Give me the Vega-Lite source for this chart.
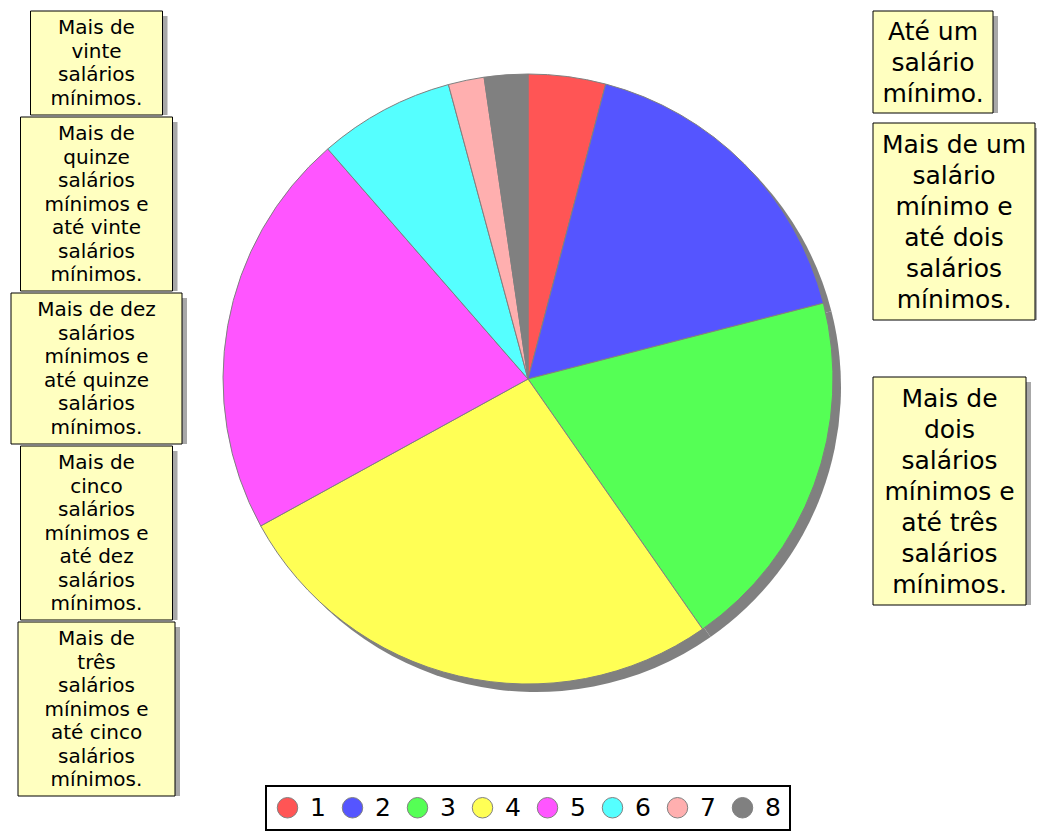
{
  "$schema": "https://vega.github.io/schema/vega-lite/v6.json",
  "padding": {"left": 10, "top": 10, "right": 0, "bottom": 0},
  "background": "white",
  "datasets": {
    "slices": [
      {"id": 1, "pct": 4.1, "label": "Até um\nsalário\nmínimo."},
      {"id": 2, "pct": 16.9, "label": "Mais de um\nsalário\nmínimo e\naté dois\nsalários\nmínimos."},
      {"id": 3, "pct": 19.3, "label": "Mais de\ndois\nsalários\nmínimos e\naté três\nsalários\nmínimos."},
      {"id": 4, "pct": 26.7, "label": "Mais de\ntrês\nsalários\nmínimos e\naté cinco\nsalários\nmínimos."},
      {"id": 5, "pct": 21.6, "label": "Mais de\ncinco\nsalários\nmínimos e\naté dez\nsalários\nmínimos."},
      {"id": 6, "pct": 7.2, "label": "Mais de dez\nsalários\nmínimos e\naté quinze\nsalários\nmínimos."},
      {"id": 7, "pct": 1.9, "label": "Mais de\nquinze\nsalários\nmínimos e\naté vinte\nsalários\nmínimos."},
      {"id": 8, "pct": 2.3, "label": "Mais de\nvinte\nsalários\nmínimos."}
    ]
  },
  "data": {"name": "slices"},
  "config": {
    "view": {"stroke": null},
    "font": "DejaVu Sans",
    "legend": {"strokeWidth": 2, "layout": {"bottom": {"anchor": "middle"}}}
  },
  "resolve": {"legend": {"color": "independent"}, "scale": {"color": "independent"}},
  "spacing": 31,
  "hconcat": [
    {
      "spacing": 0,
      "center": true,
      "vconcat": [
        {"width": 132, "height": 104, "transform": [{"filter": "datum.id == 8"}],
          "layer": [
            {"mark": {"type": "rect", "fill": "#a8a8a8", "xOffset": 5, "x2Offset": 5, "yOffset": 5, "y2Offset": 5}, "encoding": {}},
            {"mark": {"type": "rect", "fill": "#ffffc0", "stroke": "black", "strokeWidth": 1}, "encoding": {}},
            {"mark": {"type": "text", "baseline": "top", "dy": 7, "fontSize": 20, "lineHeight": 23.5, "lineBreak": "\n", "font": "DejaVu Sans", "color": "black"},
              "encoding": {"text": {"field": "label"}, "y": {"field": "id", "type": "nominal", "scale": {"type": "point", "align": 0, "padding": 0}, "axis": null}}}
          ]},
        {"width": 152, "height": 174, "transform": [{"filter": "datum.id == 7"}],
          "layer": [
            {"mark": {"type": "rect", "fill": "#a8a8a8", "xOffset": 5, "x2Offset": 5, "yOffset": 5, "y2Offset": 5}, "encoding": {}},
            {"mark": {"type": "rect", "fill": "#ffffc0", "stroke": "black", "strokeWidth": 1}, "encoding": {}},
            {"mark": {"type": "text", "baseline": "top", "dy": 7, "fontSize": 20, "lineHeight": 23.5, "lineBreak": "\n", "font": "DejaVu Sans", "color": "black"},
              "encoding": {"text": {"field": "label"}, "y": {"field": "id", "type": "nominal", "scale": {"type": "point", "align": 0, "padding": 0}, "axis": null}}}
          ]},
        {"width": 171, "height": 151, "transform": [{"filter": "datum.id == 6"}],
          "layer": [
            {"mark": {"type": "rect", "fill": "#a8a8a8", "xOffset": 5, "x2Offset": 5, "yOffset": 5, "y2Offset": 5}, "encoding": {}},
            {"mark": {"type": "rect", "fill": "#ffffc0", "stroke": "black", "strokeWidth": 1}, "encoding": {}},
            {"mark": {"type": "text", "baseline": "top", "dy": 7, "fontSize": 20, "lineHeight": 23.5, "lineBreak": "\n", "font": "DejaVu Sans", "color": "black"},
              "encoding": {"text": {"field": "label"}, "y": {"field": "id", "type": "nominal", "scale": {"type": "point", "align": 0, "padding": 0}, "axis": null}}}
          ]},
        {"width": 152, "height": 174, "transform": [{"filter": "datum.id == 5"}],
          "layer": [
            {"mark": {"type": "rect", "fill": "#a8a8a8", "xOffset": 5, "x2Offset": 5, "yOffset": 5, "y2Offset": 5}, "encoding": {}},
            {"mark": {"type": "rect", "fill": "#ffffc0", "stroke": "black", "strokeWidth": 1}, "encoding": {}},
            {"mark": {"type": "text", "baseline": "top", "dy": 7, "fontSize": 20, "lineHeight": 23.5, "lineBreak": "\n", "font": "DejaVu Sans", "color": "black"},
              "encoding": {"text": {"field": "label"}, "y": {"field": "id", "type": "nominal", "scale": {"type": "point", "align": 0, "padding": 0}, "axis": null}}}
          ]},
        {"width": 157, "height": 174, "transform": [{"filter": "datum.id == 4"}],
          "layer": [
            {"mark": {"type": "rect", "fill": "#a8a8a8", "xOffset": 5, "x2Offset": 5, "yOffset": 5, "y2Offset": 5}, "encoding": {}},
            {"mark": {"type": "rect", "fill": "#ffffc0", "stroke": "black", "strokeWidth": 1}, "encoding": {}},
            {"mark": {"type": "text", "baseline": "top", "dy": 7, "fontSize": 20, "lineHeight": 23.5, "lineBreak": "\n", "font": "DejaVu Sans", "color": "black"},
              "encoding": {"text": {"field": "label"}, "y": {"field": "id", "type": "nominal", "scale": {"type": "point", "align": 0, "padding": 0}, "axis": null}}}
          ]}
      ]
    },
    {
      "width": 620,
      "height": 736,
      "layer": [
        {"mark": {"type": "arc", "outerRadius": 305, "xOffset": 8, "yOffset": 8, "color": "#808080"},
          "encoding": {"theta": {"field": "pct", "type": "quantitative", "stack": true}, "order": {"field": "id", "type": "quantitative"}}},
        {"mark": {"type": "arc", "outerRadius": 305, "stroke": "#808080", "strokeWidth": 1},
          "encoding": {
            "theta": {"field": "pct", "type": "quantitative", "stack": true},
            "order": {"field": "id", "type": "quantitative"},
            "color": {
              "field": "id", "type": "nominal",
              "scale": {"domain": [1, 2, 3, 4, 5, 6, 7, 8], "range": ["#ff5555", "#5555ff", "#55ff55", "#ffff55", "#ff55ff", "#55ffff", "#ffafaf", "#808080"]},
              "legend": {
                "title": null, "orient": "bottom", "direction": "horizontal", "offset": 39,
                "symbolType": "circle", "symbolSize": 420, "symbolStrokeColor": "#808080", "symbolStrokeWidth": 1, "symbolOpacity": 1,
                "labelFontSize": 25, "labelFont": "DejaVu Sans", "labelColor": "black", "labelOffset": 10, "columnPadding": 14,
                "strokeColor": "black", "padding": 9, "fillColor": "white"
              }
            }
          }}
      ]
    },
    {
      "spacing": 8,
      "vconcat": [
        {"width": 120, "height": 102, "transform": [{"filter": "datum.id == 1"}],
          "layer": [
            {"mark": {"type": "rect", "fill": "#a8a8a8", "xOffset": 5, "x2Offset": 5, "yOffset": 5, "y2Offset": 5}, "encoding": {}},
            {"mark": {"type": "rect", "fill": "#ffffc0", "stroke": "black", "strokeWidth": 1}, "encoding": {}},
            {"mark": {"type": "text", "baseline": "top", "dy": 9, "fontSize": 25, "lineHeight": 31, "lineBreak": "\n", "font": "DejaVu Sans", "color": "black"},
              "encoding": {"text": {"field": "label"}, "y": {"field": "id", "type": "nominal", "scale": {"type": "point", "align": 0, "padding": 0}, "axis": null}}}
          ]},
        {
          "spacing": 55,
          "vconcat": [
            {"width": 162, "height": 197, "transform": [{"filter": "datum.id == 2"}],
              "layer": [
                {"mark": {"type": "rect", "fill": "#a8a8a8", "xOffset": 5, "x2Offset": 5, "yOffset": 5, "y2Offset": 5}, "encoding": {}},
                {"mark": {"type": "rect", "fill": "#ffffc0", "stroke": "black", "strokeWidth": 1}, "encoding": {}},
                {"mark": {"type": "text", "baseline": "top", "dy": 10, "fontSize": 25, "lineHeight": 31, "lineBreak": "\n", "font": "DejaVu Sans", "color": "black"},
                  "encoding": {"text": {"field": "label"}, "y": {"field": "id", "type": "nominal", "scale": {"type": "point", "align": 0, "padding": 0}, "axis": null}}}
              ]},
            {"width": 153, "height": 228, "transform": [{"filter": "datum.id == 3"}],
              "layer": [
                {"mark": {"type": "rect", "fill": "#a8a8a8", "xOffset": 5, "x2Offset": 5, "yOffset": 5, "y2Offset": 5}, "encoding": {}},
                {"mark": {"type": "rect", "fill": "#ffffc0", "stroke": "black", "strokeWidth": 1}, "encoding": {}},
                {"mark": {"type": "text", "baseline": "top", "dy": 10, "fontSize": 25, "lineHeight": 31, "lineBreak": "\n", "font": "DejaVu Sans", "color": "black"},
                  "encoding": {"text": {"field": "label"}, "y": {"field": "id", "type": "nominal", "scale": {"type": "point", "align": 0, "padding": 0}, "axis": null}}}
              ]}
          ]
        }
      ]
    }
  ]
}
